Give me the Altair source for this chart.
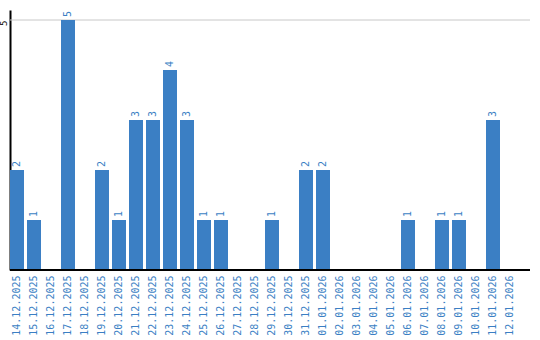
import altair as alt
import pandas as pd

dates = ["14.12.2025", "15.12.2025", "16.12.2025", "17.12.2025", "18.12.2025",
         "19.12.2025", "20.12.2025", "21.12.2025", "22.12.2025", "23.12.2025",
         "24.12.2025", "25.12.2025", "26.12.2025", "27.12.2025", "28.12.2025",
         "29.12.2025", "30.12.2025", "31.12.2025", "01.01.2026", "02.01.2026",
         "03.01.2026", "04.01.2026", "05.01.2026", "06.01.2026", "07.01.2026",
         "08.01.2026", "09.01.2026", "10.01.2026", "11.01.2026", "12.01.2026"]
counts = [2, 1, 0, 5, 0, 2, 1, 3, 3, 4, 3, 1, 1, 0, 0, 1, 0, 2, 2, 0, 0, 0, 0, 1, 0, 1, 1, 0, 3, 0]
grid_values = [5]

df = pd.DataFrame({"date": dates, "count": counts})
df["label"] = df["count"].apply(lambda v: str(v) if v > 0 else "")

BLUE = "#3b7fc4"
FONT = "DejaVu Sans Mono"

xscale = alt.Scale(paddingInner=3 / 17, paddingOuter=0.0, range=[0, 507])
yscale = alt.Scale(domain=[0, 5.2], nice=False)
xaxis = alt.Axis(title=None, labelAngle=-90, labelColor=BLUE, labelFont=FONT,
                 labelFontSize=10, ticks=False, domain=False, labelPadding=5)
yaxis = alt.Axis(title=None, values=grid_values, ticks=False, labelAngle=-90, labelFont=FONT,
                 labelFontSize=9, labelColor="black", labelPadding=2, labelAlign="right",
                 labelBaseline="bottom", grid=False, domainColor="black", domainWidth=2)

grid = alt.Chart(pd.DataFrame({"count": grid_values})).mark_rule(color="#c8c8c8", strokeWidth=1).encode(
    y=alt.Y("count:Q", scale=yscale, axis=yaxis), x=alt.value(0), x2=alt.value(520))
bars = alt.Chart(df).mark_bar(color=BLUE).encode(
    x=alt.X("date:N", sort=dates, scale=xscale, axis=xaxis),
    y=alt.Y("count:Q", scale=yscale, axis=yaxis))
text = alt.Chart(df).mark_text(angle=270, align="left", baseline="middle", dx=3,
                               color=BLUE, font=FONT, fontSize=10).encode(
    x=alt.X("date:N", sort=dates, scale=xscale, axis=xaxis),
    y=alt.Y("count:Q", scale=yscale, axis=yaxis), text="label:N")
base = alt.Chart(pd.DataFrame({"count": [0]})).mark_rule(color="black", strokeWidth=2).encode(
    y=alt.Y("count:Q", scale=yscale, axis=yaxis), x=alt.value(0), x2=alt.value(520))

chart = (grid + bars + text + base).properties(
    width=520, height=260,
    padding={"left": 10, "top": 10, "right": 10, "bottom": 70},
    autosize="none",
).configure_view(stroke=None).configure_axis(labelFont=FONT)

chart.save("out.html", embed_options={"renderer": "svg", "actions": False})
